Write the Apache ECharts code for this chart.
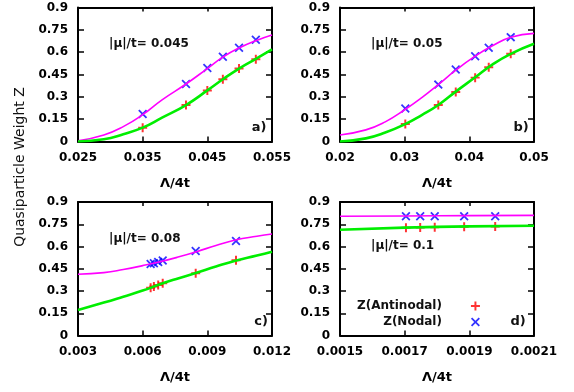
<!DOCTYPE html>
<html>
<head>
<meta charset="utf-8">
<script src="https://cdn.jsdelivr.net/npm/echarts@6/dist/echarts.min.js"></script>
<style>
  html, body { margin: 0; padding: 0; background: #fff; }
  #chart { width: 574px; height: 392px; }
</style>
</head>
<body>
<div id="chart"></div>
<script>
// tick values and labels
const yTicks = [0, 0.15, 0.3, 0.45, 0.6, 0.75, 0.9]
const yTickLabels = ['0', '0.15', '0.3', '0.45', '0.6', '0.75', '0.9']
const xTicksA = [0.025, 0.035, 0.045, 0.055]
const xTickLabelsA = ['0.025', '0.035', '0.045', '0.055']
const xTicksB = [0.02, 0.03, 0.04, 0.05]
const xTickLabelsB = ['0.02', '0.03', '0.04', '0.05']
const xTicksC = [0.003, 0.006, 0.009, 0.012]
const xTickLabelsC = ['0.003', '0.006', '0.009', '0.012']
const xTicksD = [0.0015, 0.0017, 0.0019, 0.0021]
const xTickLabelsD = ['0.0015', '0.0017', '0.0019', '0.0021']

// panel a) |mu|/t = 0.045
const pointsXA = [0.035, 0.0417, 0.045, 0.0474, 0.0499, 0.0525]
const nodalA = [0.184, 0.386, 0.494, 0.569, 0.630, 0.684]
const antiA = [0.093, 0.245, 0.343, 0.418, 0.490, 0.553]
const fitXA = [0.025, 0.029, 0.032, 0.035, 0.038, 0.0417, 0.045, 0.0474, 0.0499, 0.0525, 0.055]
const fitNodalA = [0.005, 0.044, 0.10, 0.18, 0.28, 0.386, 0.49, 0.567, 0.628, 0.677, 0.715]
const fitAntiA = [0.0, 0.015, 0.049, 0.093, 0.16, 0.245, 0.343, 0.418, 0.49, 0.555, 0.618]

// panel b) |mu|/t = 0.05
const pointsXB = [0.0301, 0.0352, 0.0379, 0.0409, 0.043, 0.0464]
const nodalB = [0.222, 0.382, 0.483, 0.573, 0.630, 0.701]
const antiB = [0.118, 0.245, 0.332, 0.429, 0.499, 0.589]
const fitXB = [0.02, 0.024, 0.027, 0.03, 0.0327, 0.0352, 0.0379, 0.0409, 0.0435, 0.0464, 0.05]
const fitNodalB = [0.044, 0.078, 0.132, 0.213, 0.296, 0.382, 0.479, 0.573, 0.641, 0.700, 0.726]
const fitAntiB = [0.0, 0.021, 0.060, 0.115, 0.179, 0.245, 0.335, 0.431, 0.515, 0.589, 0.657]

// panel c) |mu|/t = 0.08
const pointsXC = [0.00637, 0.00652, 0.00672, 0.00693, 0.00846, 0.01033]
const nodalC = [0.482, 0.487, 0.496, 0.505, 0.570, 0.637]
const antiC = [0.322, 0.330, 0.340, 0.352, 0.419, 0.507]
const fitXC = [0.003, 0.0042, 0.0051, 0.006, 0.0068, 0.0076, 0.0085, 0.0094, 0.0103, 0.0113, 0.012]
const fitNodalC = [0.413, 0.424, 0.445, 0.471, 0.497, 0.527, 0.565, 0.607, 0.644, 0.669, 0.684]
const fitAntiC = [0.172, 0.222, 0.262, 0.303, 0.345, 0.383, 0.423, 0.465, 0.504, 0.539, 0.565]

// panel d) |mu|/t = 0.1
const pointsXD = [0.001704, 0.001748, 0.001793, 0.001884, 0.00198]
const nodalD = [0.804, 0.804, 0.804, 0.804, 0.804]
const antiD = [0.727, 0.728, 0.730, 0.733, 0.735]
const fitXD = [0.0015, 0.0017, 0.0019, 0.0021]
const fitNodalD = [0.804, 0.806, 0.808, 0.81]
const fitAntiD = [0.713, 0.727, 0.736, 0.740]

const muLabels = ['|μ|/t= 0.045', '|μ|/t= 0.05', '|μ|/t= 0.08', '|μ|/t= 0.1']
const panelLetters = ['a)', 'b)', 'c)', 'd)']

const panels = [
  { xTicks: xTicksA, xLabels: xTickLabelsA, px: pointsXA, nodal: nodalA, anti: antiA, fx: fitXA, fNodal: fitNodalA, fAnti: fitAntiA },
  { xTicks: xTicksB, xLabels: xTickLabelsB, px: pointsXB, nodal: nodalB, anti: antiB, fx: fitXB, fNodal: fitNodalB, fAnti: fitAntiB },
  { xTicks: xTicksC, xLabels: xTickLabelsC, px: pointsXC, nodal: nodalC, anti: antiC, fx: fitXC, fNodal: fitNodalC, fAnti: fitAntiC },
  { xTicks: xTicksD, xLabels: xTickLabelsD, px: pointsXD, nodal: nodalD, anti: antiD, fx: fitXD, fNodal: fitNodalD, fAnti: fitAntiD }
]

// layout
const grids = [
  { left: 78, top: 7.5, width: 194, height: 134 },
  { left: 340, top: 7.5, width: 194, height: 134 },
  { left: 78, top: 202, width: 194, height: 133.5 },
  { left: 340, top: 202, width: 194, height: 133.5 }
]
const muPos = [[109, 46], [371, 46], [109, 241], [371, 248]]
const letterPos = [[259, 128], [521, 128], [261, 322], [518, 322]]

const FONT = 'DejaVu Sans'
const PLUS = 'path://M3.9,0H6.1V3.9H10V6.1H6.1V10H3.9V6.1H0V3.9H3.9Z'
const CROSS = 'path://M0,1.4L1.4,0L5,3.6L8.6,0L10,1.4L6.4,5L10,8.6L8.6,10L5,6.4L1.4,10L0,8.6L3.6,5Z'

const zip = (xs, ys) => xs.map((x, i) => [x, ys[i]])
const labelFor = (ticks, labels) => v => {
  const i = ticks.findIndex(t => Math.abs(t - v) < 1e-12)
  return i >= 0 ? labels[i] : ''
}

const lineBlack = { color: '#000', width: 2 }
const tickStyle = { color: '#000', width: 1.5 }
const labelStyle = { color: '#000', fontFamily: FONT, fontWeight: 'bold', fontSize: 12 }

const xAxis = []
const yAxis = []
const series = []

panels.forEach((p, i) => {
  xAxis.push({
    type: 'value', gridIndex: i, position: 'bottom', min: p.xTicks[0], max: p.xTicks[p.xTicks.length - 1],
    axisLine: { show: true, onZero: false, lineStyle: lineBlack },
    axisTick: { show: true, inside: true, length: 5, customValues: p.xTicks, lineStyle: tickStyle },
    axisLabel: { show: true, customValues: p.xTicks, formatter: labelFor(p.xTicks, p.xLabels), margin: 10, ...labelStyle },
    splitLine: { show: false },
    name: 'Λ/4t', nameLocation: 'middle', nameGap: 36,
    nameTextStyle: { color: '#000', fontFamily: FONT, fontWeight: 'bold', fontSize: 13 }
  })
  yAxis.push({
    type: 'value', gridIndex: i, position: 'left', min: 0, max: 0.9,
    axisLine: { show: true, onZero: false, lineStyle: lineBlack },
    axisTick: { show: true, inside: true, length: 6, customValues: yTicks, lineStyle: tickStyle },
    axisLabel: { show: true, customValues: yTicks, formatter: labelFor(yTicks, yTickLabels), margin: 10, ...labelStyle },
    splitLine: { show: false }
  })
})

// mirrored frame: top and right axes with inward ticks
panels.forEach((p, i) => {
  xAxis.push({
    type: 'value', gridIndex: i, position: 'top', min: p.xTicks[0], max: p.xTicks[p.xTicks.length - 1],
    axisLine: { show: true, onZero: false, lineStyle: lineBlack },
    axisTick: { show: true, inside: true, length: 4, customValues: p.xTicks, lineStyle: tickStyle },
    axisLabel: { show: false },
    splitLine: { show: false }
  })
  yAxis.push({
    type: 'value', gridIndex: i, position: 'right', min: 0, max: 0.9,
    axisLine: { show: true, onZero: false, lineStyle: lineBlack },
    axisTick: { show: true, inside: true, length: 6, customValues: yTicks, lineStyle: tickStyle },
    axisLabel: { show: false },
    splitLine: { show: false }
  })
})

panels.forEach((p, i) => {
  series.push({
    type: 'scatter', name: 'Z(Antinodal)', xAxisIndex: i, yAxisIndex: i,
    data: zip(p.px, p.anti), symbol: PLUS, symbolSize: 9,
    itemStyle: { color: '#ff0000' }, z: 2
  })
  series.push({
    type: 'scatter', name: 'Z(Nodal)', xAxisIndex: i, yAxisIndex: i,
    data: zip(p.px, p.nodal), symbol: CROSS, symbolSize: 9,
    itemStyle: { color: '#0000ff' }, z: 2
  })
  series.push({
    type: 'line', xAxisIndex: i, yAxisIndex: i, data: zip(p.fx, p.fNodal),
    smooth: true, showSymbol: false, silent: true,
    lineStyle: { color: '#ff00ff', width: 1.6 }, z: 3
  })
  series.push({
    type: 'line', xAxisIndex: i, yAxisIndex: i, data: zip(p.fx, p.fAnti),
    smooth: true, showSymbol: false, silent: true,
    lineStyle: { color: '#00ee00', width: 2.6 }, z: 3
  })
})

const graphic = []
muLabels.forEach((t, i) => {
  graphic.push({
    type: 'text', left: muPos[i][0], top: muPos[i][1] - 8,
    style: { text: t, fill: '#111', font: 'bold 12px "DejaVu Sans"' }
  })
  graphic.push({
    type: 'text', x: letterPos[i][0], y: letterPos[i][1],
    style: { text: panelLetters[i], fill: '#111', font: 'bold 13px "DejaVu Sans"', align: 'center', verticalAlign: 'middle' }
  })
})
graphic.push({
  type: 'text', x: 20, y: 167, rotation: Math.PI / 2,
  style: { text: 'Quasiparticle Weight Z', fill: '#111', font: '14px "DejaVu Sans"', align: 'center', verticalAlign: 'middle' }
})

const chart = echarts.init(document.getElementById('chart'))
chart.setOption({
  animation: false,
  backgroundColor: '#fff',
  grid: grids,
  xAxis,
  yAxis,
  legend: {
    data: ['Z(Antinodal)', 'Z(Nodal)'],
    orient: 'vertical', align: 'right',
    left: 352, top: 295,
    itemWidth: 57, itemHeight: 9, itemGap: 4,
    selectedMode: false,
    textStyle: { color: '#111', fontFamily: FONT, fontWeight: 'bold', fontSize: 12 }
  },
  graphic,
  series
})
</script>
</body>
</html>
